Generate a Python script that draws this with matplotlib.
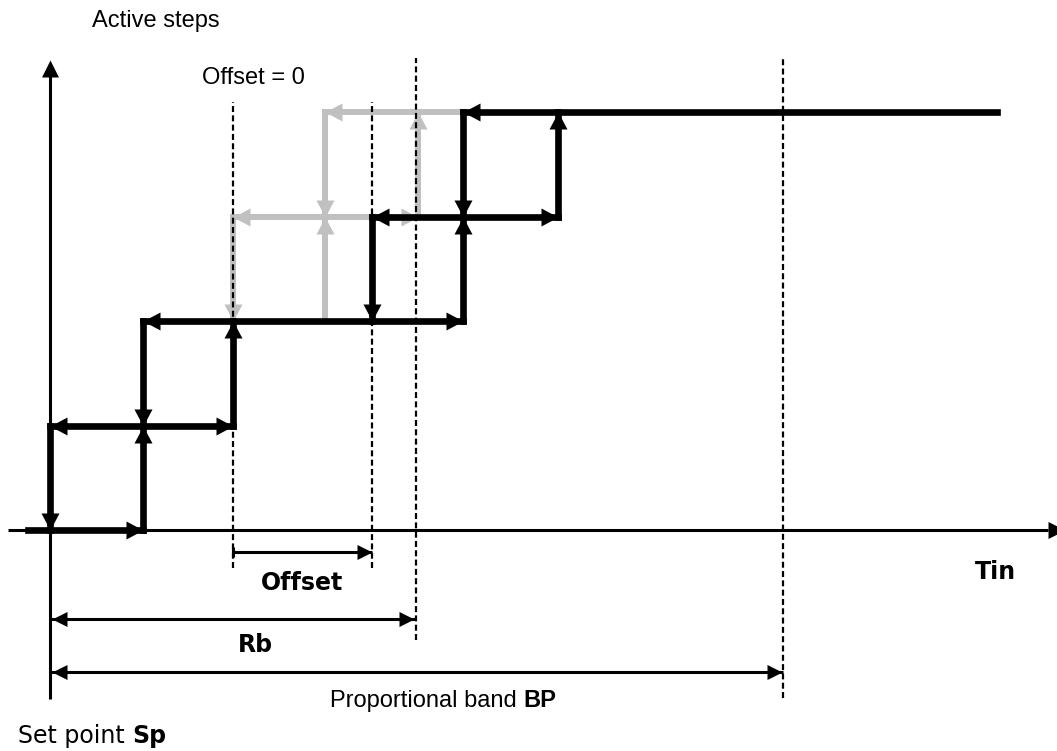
import matplotlib
matplotlib.use("Agg")
import matplotlib.pyplot as plt
from matplotlib.path import Path

# ---- controller data (Tin measured from the set point Sp = 0, arbitrary units) ----
steps = [1, 2, 3, 4]
on_thr = [93, 183, 413, 508]        # Tin at which step k switches on
off_thr = [0, 93, 322, 413]         # Tin at which step k switches off

# the same controller with Offset = 0 (only the two upper steps move)
steps_no_offset = [3, 4]
on_thr_no_offset = [275, 368]
off_thr_no_offset = [183, 275]

tin_start = -22
tin_end = 947

sp = 0
offset_span = [183, 322]
rb = 366
bp = 733

# ---- layout ----
DPI = 100
fig = plt.figure(figsize=(10.57, 7.51), dpi=DPI)
ax = fig.add_axes([0, 0, 1, 1])
ax.set_xlim(-50, 1007)
ax.set_ylim(-2.1148, 5.0718)
ax.axis("off")
plt.rcParams["lines.scale_dashes"] = False

BLACK = "black"
GREY = "#c0c0c0"
THICK = 4.8
THICK_GREY = 4.3
THIN = 2.2


def head_path(direction, ratio):
    h = ratio / 2.0
    pts = {
        "right": [(0, 0), (-1, h), (-1, -h), (0, 0)],
        "left": [(0, 0), (1, h), (1, -h), (0, 0)],
        "up": [(0, 0), (-h, -1), (h, -1), (0, 0)],
        "down": [(0, 0), (-h, 1), (h, 1), (0, 0)],
    }[direction]
    return Path(pts, [Path.MOVETO, Path.LINETO, Path.LINETO, Path.CLOSEPOLY])


def head(x, y, direction, color, length=17, width=18, z=5):
    ax.plot([x], [y], linestyle="none",
            marker=head_path(direction, width / length),
            markersize=2 * length * 72 / DPI, markeredgewidth=0,
            color=color, zorder=z)


def seg(xs, ys, color, lw, z, cap="projecting"):
    ax.plot(xs, ys, color=color, lw=lw, solid_capstyle=cap, zorder=z)


# ---- axes of the diagram ----
seg([-42, 998], [0, 0], BLACK, THIN, 1, cap="butt")
head(1015, 0, "right", BLACK, length=17, width=17, z=1)
seg([sp, sp], [-1.617, 4.35], BLACK, THIN, 1, cap="butt")
head(sp, 4.4976, "up", BLACK, length=17, width=17, z=1)

# ---- staircase without offset (grey) ----
zg = 2
lv = {s: i for i, s in enumerate(steps_no_offset)}
for s in steps_no_offset:
    on = on_thr_no_offset[lv[s]]
    off = off_thr_no_offset[lv[s]]
    seg([on, on], [s - 1, s], GREY, THICK_GREY, zg)
    head(on, s, "up", GREY, z=zg)
    seg([off, off], [s, s - 1], GREY, THICK_GREY, zg)
    head(off, s - 1, "down", GREY, z=zg)
# grey horizontal runs
seg([off_thr_no_offset[0], on_thr_no_offset[1]], [3, 3], GREY, THICK_GREY, zg)
head(off_thr_no_offset[0], 3, "left", GREY, z=zg)
head(on_thr_no_offset[1], 3, "right", GREY, z=zg)
seg([off_thr_no_offset[1], off_thr[3]], [4, 4], GREY, THICK_GREY, zg)
head(off_thr_no_offset[1], 4, "left", GREY, z=zg)

# ---- dashed reference lines ----
dash = dict(color=BLACK, lw=1.6, linestyle=(0, (4.3, 2.4)), zorder=3)
ax.plot([offset_span[0]] * 2, [-0.3636, 4.0957], **dash)
ax.plot([offset_span[1]] * 2, [-0.3636, 4.0957], **dash)
ax.plot([rb, rb], [-1.0526, 4.5167], **dash)
ax.plot([bp, bp], [-1.6077, 4.5167], **dash)

# ---- staircase with offset (black) ----
zb = 4
n = len(steps)
for level in range(n + 1):
    left = off_thr[level - 1] if level >= 1 else tin_start
    right = on_thr[level] if level < n else tin_end
    seg([left, right], [level, level], BLACK, THICK, zb)
    if level >= 1:
        head(left, level, "left", BLACK, z=zb + 1)
    if level < n:
        head(right, level, "right", BLACK, z=zb + 1)
for k, s in enumerate(steps):
    seg([on_thr[k]] * 2, [s - 1, s], BLACK, THICK, zb)
    head(on_thr[k], s, "up", BLACK, z=zb + 1)
    seg([off_thr[k]] * 2, [s, s - 1], BLACK, THICK, zb)
    head(off_thr[k], s - 1, "down", BLACK, z=zb + 1)

# ---- dimension arrows ----
y_off, y_rb, y_bp = -0.2105, -0.8517, -1.3589
seg([offset_span[0], offset_span[1]], [y_off, y_off], BLACK, THIN, 3, cap="butt")
seg([offset_span[0]] * 2, [y_off - 0.045, y_off + 0.045], BLACK, THIN, 3, cap="butt")
head(offset_span[1], y_off, "right", BLACK, length=15, width=15, z=3)

seg([sp, rb], [y_rb, y_rb], BLACK, THIN, 3, cap="butt")
head(sp + 2, y_rb, "left", BLACK, length=15, width=15, z=3)
head(rb - 2, y_rb, "right", BLACK, length=15, width=15, z=3)

seg([sp, bp], [y_bp, y_bp], BLACK, THIN, 3, cap="butt")
head(sp + 2, y_bp, "left", BLACK, length=15, width=15, z=3)
head(bp - 1, y_bp, "right", BLACK, length=15, width=15, z=3)

# ---- labels ----
sans = dict(family="Liberation Sans", fontsize=17)
verd = dict(family="DejaVu Sans", fontsize=17)

ax.text(42, 4.813, "Active steps", ha="left", va="baseline", **sans)
ax.text(152, 4.268, "Offset = 0", ha="left", va="baseline", **sans)
ax.text(sum(offset_span) / 2, -0.574, "Offset", ha="center", va="baseline",
        weight="bold", **verd)
ax.text(205, -1.167, "Rb", ha="center", va="baseline", weight="bold", **verd)
ax.text(945, -0.469, "Tin", ha="center", va="baseline", weight="bold", **verd)

t_bp = ax.text(280, -1.694, "Proportional band", ha="left", va="baseline", **sans)
ax.annotate("BP", xy=(1, 0), xycoords=t_bp, xytext=(4.7, 0),
            textcoords="offset points", ha="left", va="bottom",
            weight="bold", **sans)

t_sp = ax.text(-32, -2.038, "Set point", ha="left", va="baseline", **verd)
ax.annotate("Sp", xy=(1, 0), xycoords=t_sp, xytext=(5.4, 0),
            textcoords="offset points", ha="left", va="bottom",
            weight="bold", **verd)

fig.savefig("out.png", dpi=DPI)
